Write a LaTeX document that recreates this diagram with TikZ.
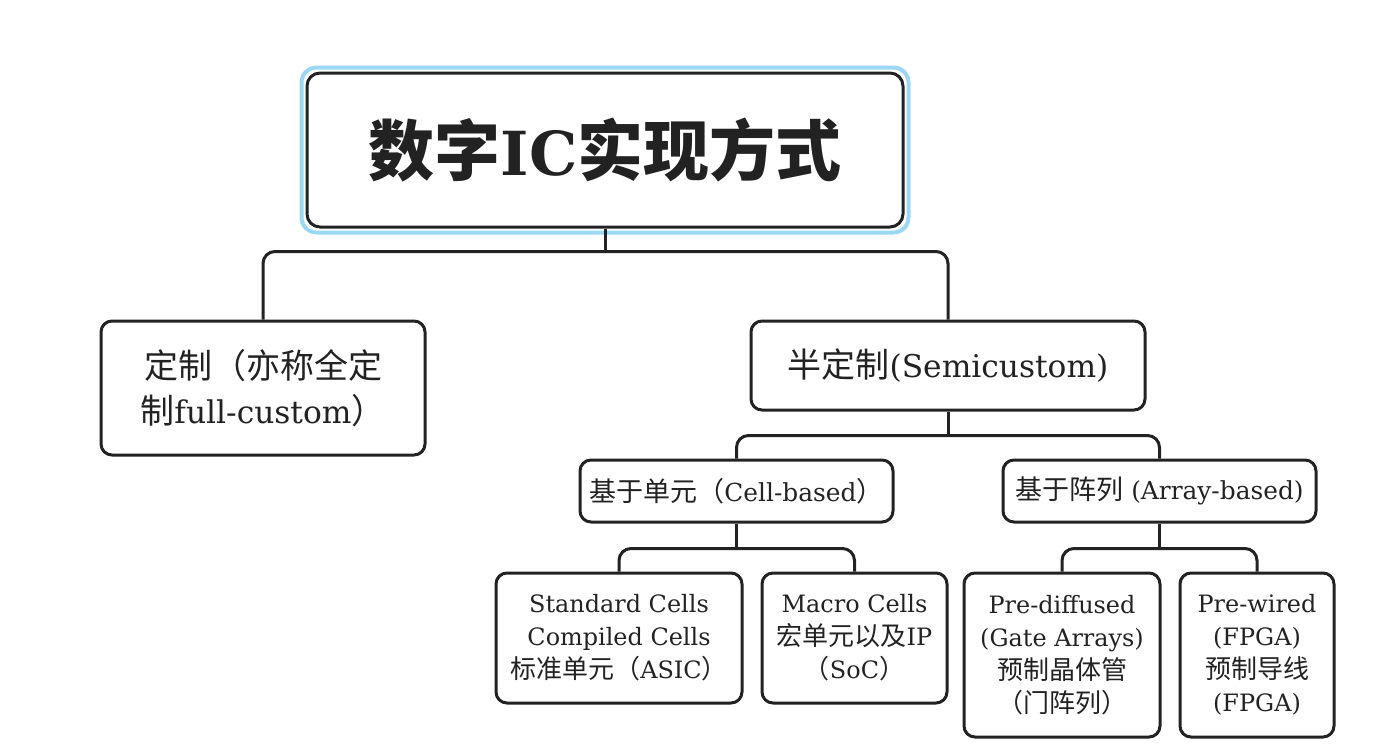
\documentclass[tikz,border=0pt]{standalone}
\usepackage{fontspec}
\usepackage{xcolor}
\usepackage{tikz}
\usetikzlibrary{positioning}
\setmainfont[Scale=0.92]{DejaVu Serif}
\newfontfamily\cjk{Noto Sans CJK SC}
\newcommand{\zh}[1]{{\cjk #1}}
\definecolor{ink}{HTML}{222222}
\definecolor{haloblue}{HTML}{9AD8F6}

\begin{document}
\begin{tikzpicture}[
  x=1pt, y=-1pt,
  box/.style={rectangle, draw=ink, line width=3pt, rounded corners=11pt, align=center, text=ink, inner sep=0pt},
  upper/.style={box, font=\fontsize{34}{45}\selectfont},
  middle/.style={box, font=\fontsize{27}{33}\selectfont},
  lower/.style={box, font=\fontsize{26}{33}\selectfont},
  link/.style={draw=ink, line width=3pt, rounded corners=12pt}
]
  \useasboundingbox (0,0) rectangle (1381,750);
  \node[box, minimum width=596pt, minimum height=154pt, rounded corners=13pt, font=\fontsize{66}{70}\selectfont\bfseries] (title) at (605,150) {\zh{数字}IC\zh{实现方式}};
  \draw[haloblue, line width=4pt, rounded corners=15pt] ([shift={(-4pt,4pt)}]title.north west) rectangle ([shift={(4pt,-4pt)}]title.south east);

  \node[upper, minimum width=324pt, minimum height=134pt] (full) at (263,388) {\zh{定制（亦称全定}\\\zh{制}full-custom\zh{）}};
  \node[upper, minimum width=394pt, minimum height=89pt] (semi) at (948,365.5) {\zh{半定制}(Semicustom)};

  \node[middle, minimum width=313pt, minimum height=62pt] (cellb) at (736.5,491) {\zh{基于单元（}Cell-based\zh{）}};
  \node[middle, minimum width=313pt, minimum height=62pt] (arrayb) at (1159.5,491) {\zh{基于阵列} (Array-based)};

  \node[lower, minimum width=246pt, minimum height=130pt] (stdcell) at (619,638) {Standard Cells\\Compiled Cells\\\zh{标准单元（}ASIC\zh{）}};
  \node[lower, minimum width=185pt, minimum height=130pt] (macro) at (854.5,638) {Macro Cells\\\zh{宏单元以及}IP\\\zh{（}SoC\zh{）}};
  \node[lower, minimum width=196pt, minimum height=164pt] (prediff) at (1062,655) {Pre-diffused\\(Gate Arrays)\\\zh{预制晶体管}\\\zh{（门阵列）}};
  \node[lower, minimum width=154pt, minimum height=164pt] (prewired) at (1257,655) {Pre-wired\\(FPGA)\\\zh{预制导线}\\(FPGA)};

  \draw[link] (title.south) -- ++(0,23) coordinate (j1);
  \draw[link] (full.north) |- (j1) -| (semi.north);
  \draw[link] (semi.south) -- ++(0,24) coordinate (j2);
  \draw[link] (cellb.north) |- (j2) -| (arrayb.north);
  \draw[link] (cellb.south) -- ++(0,25) coordinate (j3);
  \draw[link] (stdcell.north) |- (j3) -| (macro.north);
  \draw[link] (arrayb.south) -- ++(0,25) coordinate (j4);
  \draw[link] (prediff.north) |- (j4) -| (prewired.north);
\end{tikzpicture}
\end{document}
